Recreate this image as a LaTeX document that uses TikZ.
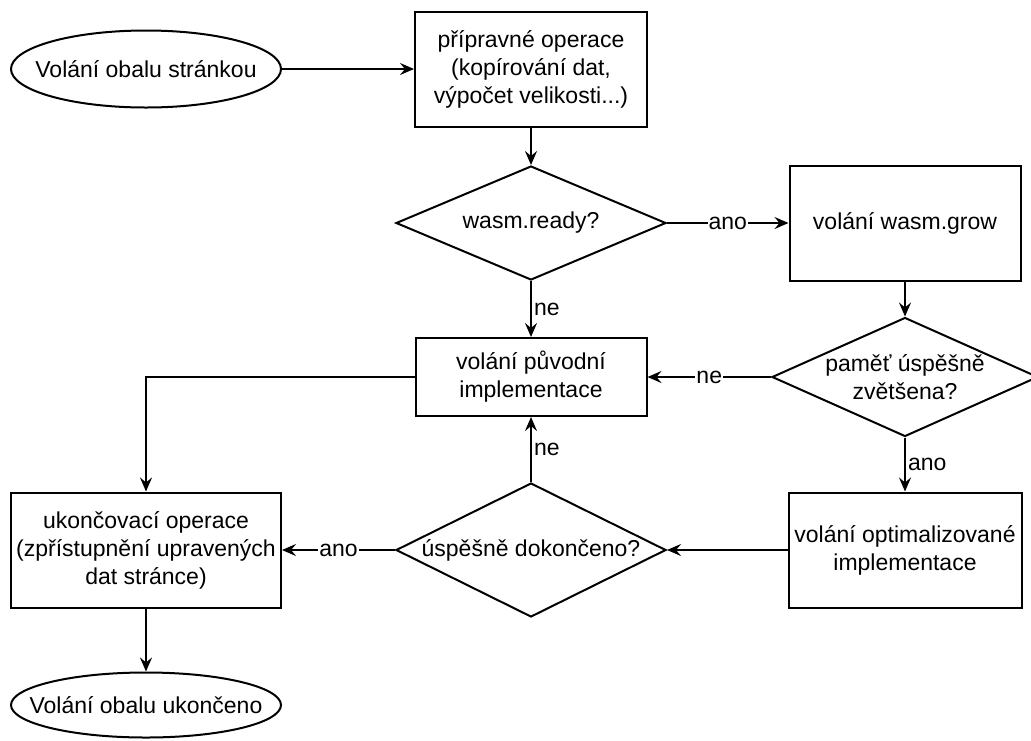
\documentclass[tikz,border=0pt]{standalone}
\usepackage{fontspec}
\setmainfont{Liberation Sans}
\usetikzlibrary{arrows.meta, positioning, shapes.geometric}
\tikzset{
  >={Stealth[length=14pt, width=12pt, inset=5pt]}, % arrow heads of the connectors
  every node/.style={font=\fontsize{23}{28}\selectfont, align=center},
  process/.style={draw, rectangle, minimum width=231pt, minimum height=115pt,
    inner sep=0pt}, % plain steps
  terminal/.style={draw, ellipse, minimum width=270pt, minimum height=77pt,
    inner sep=0pt}, % start and end of the call, text goes in as a label
  decision/.style={draw, diamond, minimum width=270pt, minimum height=114pt,
    inner sep=0pt}, % questions, text goes in as a label
  answer/.style={fill=white, inner sep=1pt}, % ano / ne sitting on a line
  side/.style={right, inner sep=2pt}, % ano / ne beside a vertical line
}

\begin{document}
\begin{tikzpicture}[x=1pt, y=-1pt, line width=2pt]
    \useasboundingbox (0,0) rectangle (1031,740);

    \node[terminal, label={center:Volání obalu stránkou}] (start) at (146,69) {};
    \node[process, right of=start, node distance=385pt, minimum width=232pt]
    (prep) {přípravné operace\\(kopírování dat,\\výpočet velikosti...)};
    \node[decision, below of=prep, node distance=154pt,
    label={center:wasm.ready?}] (ready) {};
    \node[process, right of=ready, node distance=374pt] (grow) {volání wasm.grow};
    \node[decision, below of=grow, node distance=154pt, minimum width=266pt,
    minimum height=119pt, label={center:{paměť úspěšně\\zvětšena?}}] (enlarge) {};
    \node[process, below of=ready, node distance=154pt, minimum height=78pt]
    (orig) {volání původní\\implementace};
    \node[process, below of=enlarge, node distance=173pt, minimum width=233pt]
    (opt) {volání optimalizované\\implementace};
    \node[decision, below of=orig, node distance=173pt, minimum height=134pt,
    label={center:úspěšně dokončeno?}] (done) {};
    \node[process, left of=done, node distance=385pt, minimum width=270pt]
    (finish) {ukončovací operace\\(zpřístupnění upravených\\dat stránce)};
    \node[terminal, below of=finish, node distance=155pt, minimum height=65pt,
    label={center:Volání obalu ukončeno}] (stop) {};

    \draw[->]
    (start) edge (prep)
    (prep) edge (ready)
    (ready) edge node[answer] {ano} (grow)
    (ready) edge node[side] {ne} (orig)
    (grow) edge (enlarge)
    (enlarge) edge node[answer] {ne} (orig)
    (enlarge) edge node[side] {ano} (opt)
    (opt) edge (done)
    (done) edge node[answer] {ano} (finish)
    (done) edge node[side] {ne} (orig)
    (finish) edge (stop)
    ;
    \draw[->] (orig) -| (finish);
  \end{tikzpicture}
\end{document}
